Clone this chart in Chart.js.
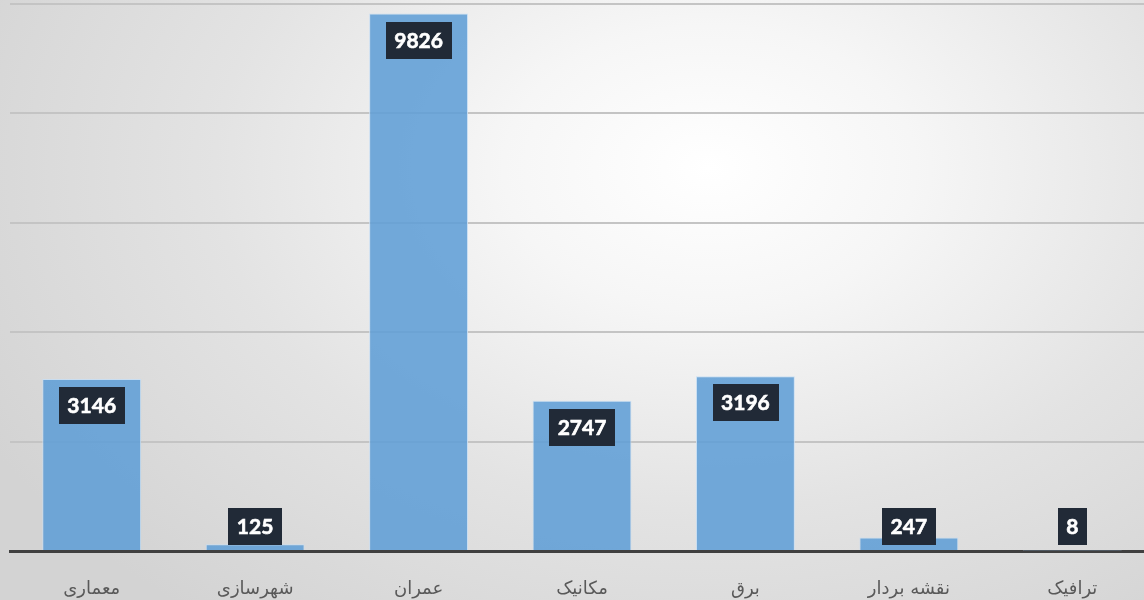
<!DOCTYPE html>
<html>
<head>
<meta charset="utf-8">
<script src="https://cdn.jsdelivr.net/npm/chart.js@4.4.1/dist/chart.umd.min.js"></script>
<style>
  html, body { margin:0; padding:0; width:1144px; height:600px; overflow:hidden; }
  body { background: radial-gradient(ellipse 72% 95% at 62% 28%, #ffffff 0%, #f6f6f6 25%, #e3e3e3 60%, #d3d3d3 100%); }
  #wrap { position:absolute; left:0; top:0; width:1160px; height:640px; }
</style>
</head>
<body>
<div id="wrap"><canvas id="c"></canvas></div>
<script>
const categories = ['معماری', 'شهرسازی', 'عمران', 'مکانیک', 'برق', 'نقشه بردار', 'ترافیک'];
const values = [3146, 125, 9826, 2747, 3196, 247, 8];
const yTicks = [0, 2000, 4000, 6000, 8000, 10000];

const labelPlugin = {
  id: 'boxLabels',
  afterDatasetsDraw(chart) {
    const ctx = chart.ctx;
    const meta = chart.getDatasetMeta(0);
    ctx.save();
    ctx.font = 'bold 21px Lato, "Open Sans", sans-serif';
    ctx.textAlign = 'center';
    ctx.textBaseline = 'middle';
    meta.data.forEach((bar, i) => {
      const txt = String(values[i]);
      const w = ctx.measureText(txt).width + 17;
      const h = 37;
      const top = Math.min(bar.y, bar.base);
      const cy = Math.min(top + 8 + h / 2, bar.base - 5 - h / 2);
      ctx.fillStyle = '#212a37';
      ctx.fillRect(Math.round(bar.x - w / 2), Math.round(cy - h / 2), Math.round(w), h);
      ctx.fillStyle = '#ffffff';
      ctx.fillText(txt, bar.x, cy + 1);
      ctx.strokeStyle = '#ffffff';
      ctx.lineWidth = 0.6;
      ctx.strokeText(txt, bar.x, cy + 1);
    });
    ctx.restore();
  }
};

new Chart(document.getElementById('c'), {
  type: 'bar',
  data: {
    labels: categories,
    datasets: [{
      data: values,
      backgroundColor: 'rgba(96,158,214,0.88)',
      borderColor: 'rgba(200,222,243,0.9)',
      borderWidth: 1,
      categoryPercentage: 1,
      barPercentage: 0.605
    }]
  },
  options: {
    responsive: true,
    maintainAspectRatio: false,
    animation: false,
    devicePixelRatio: 1,
    layout: { padding: { left: 10, right: 6, top: 4, bottom: 0 } },
    plugins: { legend: { display: false }, tooltip: { enabled: false } },
    scales: {
      x: {
        afterFit(s) { s.height = 89; },
        grid: { display: false, drawTicks: false },
        border: { display: true, color: '#404040', width: 3 },
        ticks: {
          padding: 28,
          autoSkip: false,
          maxRotation: 0,
          color: '#595959',
          font: { family: '"DejaVu Sans", sans-serif', size: 18 }
        }
      },
      y: {
        min: 0,
        max: 10000,
        afterFit(s) { s.width = 0; },
        afterBuildTicks(s) { s.ticks = yTicks.map(v => ({ value: v })); },
        grid: {
          drawTicks: false,
          lineWidth: 2,
          color: ctx => ctx.tick && ctx.tick.value === 0 ? 'rgba(0,0,0,0)' : '#c4c4c4'
        },
        border: { display: false },
        ticks: { display: false }
      }
    }
  },
  plugins: [labelPlugin]
});
</script>
</body>
</html>
